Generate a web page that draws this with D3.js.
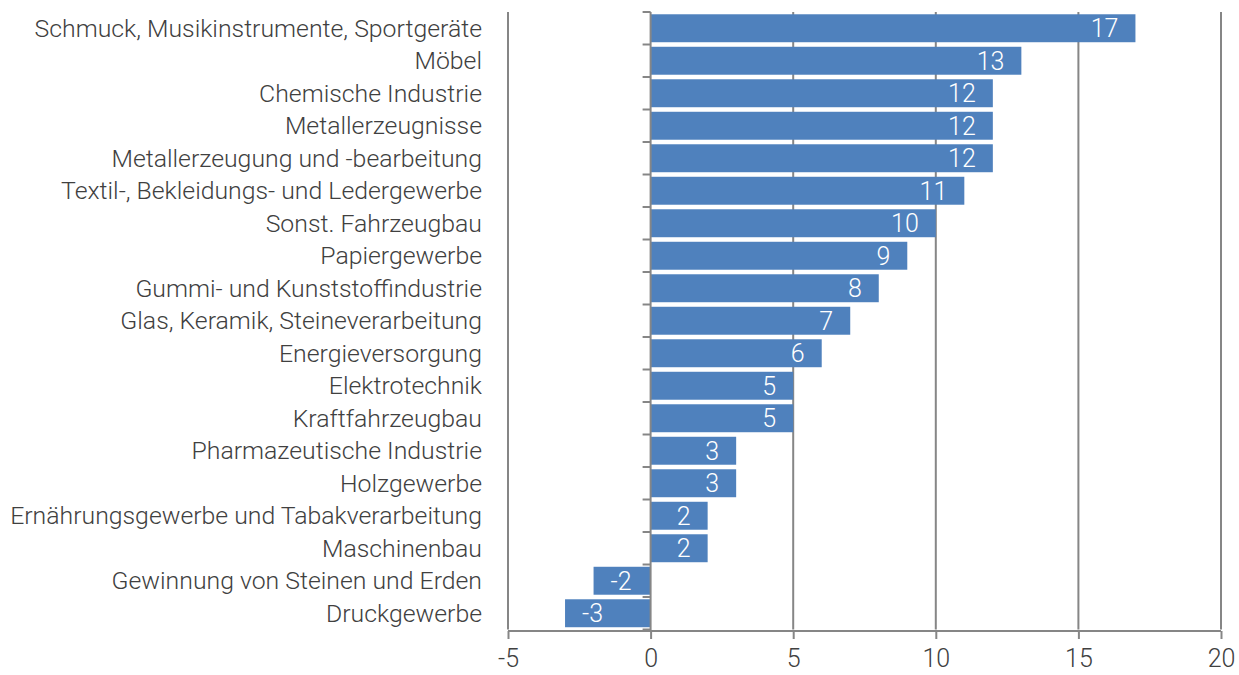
<!DOCTYPE html>
<html>
<head>
<meta charset="utf-8">
<script src="https://cdn.jsdelivr.net/npm/d3@7"></script>
<style>
  body { margin: 0; background: #fff; }
  svg { display: block; font-family: Roboto, sans-serif; font-weight: 300; }
</style>
</head>
<body>
<svg></svg>
<script>
let categories = [
  "Schmuck, Musikinstrumente, Sportgeräte",
  "Möbel",
  "Chemische Industrie",
  "Metallerzeugnisse",
  "Metallerzeugung und -bearbeitung",
  "Textil-, Bekleidungs- und Ledergewerbe",
  "Sonst. Fahrzeugbau",
  "Papiergewerbe",
  "Gummi- und Kunststoffindustrie",
  "Glas, Keramik, Steineverarbeitung",
  "Energieversorgung",
  "Elektrotechnik",
  "Kraftfahrzeugbau",
  "Pharmazeutische Industrie",
  "Holzgewerbe",
  "Ernährungsgewerbe und Tabakverarbeitung",
  "Maschinenbau",
  "Gewinnung von Steinen und Erden",
  "Druckgewerbe",
];
let values = [17, 13, 12, 12, 12, 11, 10, 9, 8, 7, 6, 5, 5, 3, 3, 2, 2, -2, -3];
let xTicks = [-5, 0, 5, 10, 15, 20];

let width = 1239;
let height = 675;
let plotLeft = 508;
let plotRight = 1221;
let plotTop = 12;
let plotBottom = 629.5;

let barColor = "#4f81bd";
let gridColor = "#868686";
let textColor = "#404040";

let svg = d3.select("svg").attr("width", width).attr("height", height);

let xScale = d3.scaleLinear().domain([-5, 20]).range([plotLeft, plotRight]);
let yScale = d3
  .scaleBand()
  .domain(categories)
  .range([plotTop, plotBottom])
  .paddingInner(0.14)
  .paddingOuter(0.07);

// vertical gridlines
svg
  .append("g")
  .selectAll("line")
  .data(xTicks.filter((d) => d !== 0))
  .enter()
  .append("line")
  .attr("x1", (d) => xScale(d))
  .attr("x2", (d) => xScale(d))
  .attr("y1", plotTop)
  .attr("y2", plotBottom)
  .attr("stroke", gridColor)
  .attr("stroke-width", 2);

// bars
svg
  .append("g")
  .selectAll("rect")
  .data(values)
  .enter()
  .append("rect")
  .attr("x", (d) => xScale(Math.min(0, d)))
  .attr("width", (d) => Math.abs(xScale(d) - xScale(0)))
  .attr("y", (d, i) => yScale(categories[i]))
  .attr("height", yScale.bandwidth())
  .attr("fill", barColor);

// value labels, inside end
svg
  .append("g")
  .selectAll("text")
  .data(values)
  .enter()
  .append("text")
  .attr("x", (d) => (d >= 0 ? xScale(d) - 17 : xScale(d) + 17))
  .attr("y", (d, i) => yScale(categories[i]) + yScale.bandwidth() / 2)
  .attr("dy", "0.35em")
  .attr("text-anchor", (d) => (d >= 0 ? "end" : "start"))
  .attr("fill", "#fff")
  .attr("font-size", 25)
  .text((d) => d);

// x axis
let xAxis = d3
  .axisBottom(xScale)
  .tickValues(xTicks)
  .tickFormat((d) => String(d))
  .tickSize(8)
  .tickPadding(10);
let gx = svg
  .append("g")
  .attr("transform", "translate(0," + (plotBottom + 1.5) + ")")
  .call(xAxis);
gx.select(".domain")
  .attr("stroke", gridColor)
  .attr("stroke-width", 2)
  .attr("d", "M" + plotLeft + ",0H" + plotRight);
gx.selectAll(".tick line").attr("stroke", gridColor).attr("stroke-width", 2);
gx.selectAll(".tick text")
  .attr("fill", textColor)
  .attr("font-family", "Roboto, sans-serif")
  .attr("font-weight", 300)
  .attr("font-size", 25);

// category axis at zero
let bounds = categories
  .map((c) => yScale(c) - (yScale.step() - yScale.bandwidth()) / 2)
  .concat([plotBottom]);
svg
  .append("line")
  .attr("x1", xScale(0))
  .attr("x2", xScale(0))
  .attr("y1", plotTop)
  .attr("y2", plotBottom + 1.5)
  .attr("stroke", gridColor)
  .attr("stroke-width", 2);
svg
  .append("g")
  .selectAll("line")
  .data(bounds)
  .enter()
  .append("line")
  .attr("x1", xScale(0) - 8)
  .attr("x2", xScale(0))
  .attr("y1", (d) => d)
  .attr("y2", (d) => d)
  .attr("stroke", gridColor)
  .attr("stroke-width", 2);

// category labels
svg
  .append("g")
  .selectAll("text")
  .data(categories)
  .enter()
  .append("text")
  .attr("x", plotLeft - 26)
  .attr("y", (d) => yScale(d) + yScale.bandwidth() / 2)
  .attr("dy", "0.35em")
  .attr("text-anchor", "end")
  .attr("fill", textColor)
  .attr("font-size", 24.8)
  .text((d) => d);
</script>
</body>
</html>
